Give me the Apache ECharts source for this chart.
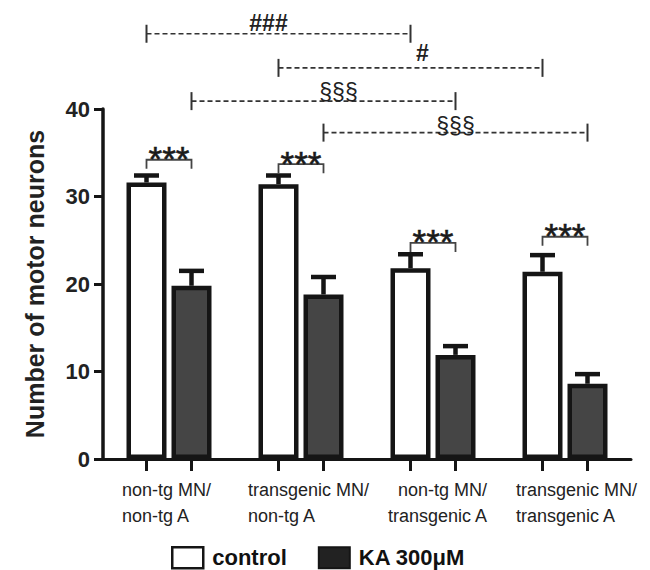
<!DOCTYPE html>
<html><head><meta charset="utf-8">
<script src="https://cdn.jsdelivr.net/npm/echarts@6/dist/echarts.min.js"></script>
<style>html,body{margin:0;padding:0;background:#fff}#chart{width:650px;height:570px}</style>
</head><body><div id="chart"></div>
<script>
// ---------- data ----------
const categoryLine1 = ['non-tg MN/', 'transgenic MN/', 'non-tg MN/', 'transgenic MN/'];
const categoryLine2 = ['non-tg A', 'non-tg A', 'transgenic A', 'transgenic A'];
const categories = categoryLine1.map((a, i) => a + '\n' + categoryLine2[i]);
const seriesNames = ['control', 'KA 300μM'];
const controlMean = [31.6, 31.4, 21.8, 21.4];
const controlSEM = [0.8, 1.0, 1.6, 1.9];
const kaMean = [19.8, 18.8, 11.9, 8.6];
const kaSEM = [1.7, 2.0, 1.0, 1.1];
const yTicks = [0, 10, 20, 30, 40];
const yTitle = 'Number of motor neurons';
const pairLabels = ['***', '***', '***', '***'];
const compLabels = ['###', '#', '§§§', '§§§'];
const compFrom = [[0, 0], [1, 0], [0, 1], [1, 1]]; // [category, series]
const compTo = [[2, 0], [3, 0], [2, 1], [3, 1]];

// ---------- layout / style ----------
const FONT = '"Liberation Sans", Arial, Helvetica, sans-serif';
const BAR_W = 40, BAR_GAP = 5;
const HALF = (BAR_W + BAR_GAP) / 2;
const pairBracketY = [34.2, 33.7, 24.7, 25.4];
const compLineY = [48.6, 44.7, 40.9, 37.3];
const compTextDx = [-10, 12, 15, 0];
const compTextDy = [-11, -15, -9, -7];
const compBold = [true, true, false, false];
const labelDx1 = [-47, -53, -35, -49];
const labelDx2 = [-47, -53, -45, -49];
const INK = '#151515';

function errRender(sIdx) {
  return function (params, api) {
    const i = api.value(0), m = api.value(1), e = api.value(2);
    const base = api.coord([i, m]);
    const top = api.coord([i, m + e]);
    const x = base[0] + (sIdx === 0 ? -HALF : HALF);
    return {
      type: 'group', children: [
        { type: 'line', shape: { x1: x, y1: base[1], x2: x, y2: top[1] }, style: { stroke: INK, lineWidth: 4.5 } },
        { type: 'line', shape: { x1: x - 12.5, y1: top[1], x2: x + 12.5, y2: top[1] }, style: { stroke: INK, lineWidth: 4.5 } }
      ]
    };
  };
}

const chart = echarts.init(document.getElementById('chart'), null, { renderer: 'svg' });
chart.setOption({
  animation: false,
  backgroundColor: '#fff',
  grid: { left: 103, right: 19, top: 109, bottom: 111, containLabel: false },
  legend: {
    left: 171, top: 546, padding: 0, itemWidth: 31, itemHeight: 21, itemGap: 31, icon: 'rect',
    selectedMode: false,
    textStyle: { fontFamily: FONT, fontSize: 22, fontWeight: 'bold', color: '#111', padding: [0, 0, 0, 4], lineHeight: 22 },
    data: [
      { name: seriesNames[0], itemStyle: { color: '#fff', borderColor: INK, borderWidth: 2.5 } },
      { name: seriesNames[1], itemStyle: { color: '#222', borderColor: INK, borderWidth: 2 } }
    ]
  },
  xAxis: {
    type: 'category', data: categories,
    axisLine: { lineStyle: { color: INK, width: 3 } },
    axisTick: { show: false }, axisLabel: { show: false }, splitLine: { show: false }
  },
  yAxis: {
    type: 'value', min: yTicks[0], max: yTicks[yTicks.length - 1], interval: 10,
    name: yTitle, nameLocation: 'middle', nameGap: 56,
    nameTextStyle: { fontFamily: FONT, fontSize: 25, fontWeight: 'bold', color: '#222' },
    axisLine: { show: true, lineStyle: { color: INK, width: 3.5 } },
    axisTick: { show: true, length: 9, lineStyle: { color: INK, width: 3 } },
    axisLabel: { fontFamily: FONT, fontSize: 22, fontWeight: 'bold', color: '#222', margin: 13 },
    splitLine: { show: false }
  },
  series: [
    {
      name: seriesNames[0], type: 'bar', data: controlMean, barWidth: BAR_W, barGap: (BAR_GAP / BAR_W * 100) + '%',
      itemStyle: { color: '#fff', borderColor: INK, borderWidth: 4.5 }, z: 2
    },
    {
      name: seriesNames[1], type: 'bar', data: kaMean, barWidth: BAR_W,
      itemStyle: { color: '#454545', borderColor: INK, borderWidth: 4.5 }, z: 2
    },
    {
      type: 'custom', silent: true, z: 3, clip: false,
      data: controlMean.map((v, i) => [i, v, controlSEM[i]]), encode: { x: 0, y: 1 },
      renderItem: errRender(0)
    },
    {
      type: 'custom', silent: true, z: 3, clip: false,
      data: kaMean.map((v, i) => [i, v, kaSEM[i]]), encode: { x: 0, y: 1 },
      renderItem: errRender(1)
    },
    { // within-group significance brackets
      type: 'custom', silent: true, z: 4, clip: false,
      data: pairBracketY.map((h, i) => [i, h]), encode: { x: 0, y: 1 },
      renderItem: function (params, api) {
        const i = api.value(0), h = api.value(1);
        const p = api.coord([i, h]);
        const x1 = p[0] - HALF, x2 = p[0] + HALF, y = p[1];
        const st = { stroke: '#444', lineWidth: 1.8 };
        return {
          type: 'group', children: [
            { type: 'polyline', shape: { points: [[x1, y + 9], [x1, y], [x2, y], [x2, y + 9]] }, style: Object.assign({ fill: null }, st) },
            { type: 'text', x: p[0], y: y - 1, style: { text: pairLabels[params.dataIndex], fill: '#1a1a1a', stroke: '#1a1a1a', lineWidth: 0.6, fontFamily: FONT, fontSize: 35, align: 'center', verticalAlign: 'middle' } }
          ]
        };
      }
    },
    { // between-group comparisons
      type: 'custom', silent: true, z: 4, clip: false,
      data: compLineY.map((h, k) => [compFrom[k][0], compFrom[k][1], compTo[k][0], compTo[k][1], h]),
      encode: { x: 0, y: 4 },
      renderItem: function (params, api) {
        const k = params.dataIndex;
        const h = api.value(4);
        const a = api.coord([api.value(0), h]);
        const b = api.coord([api.value(2), h]);
        const x1 = a[0] + (api.value(1) === 0 ? -HALF : HALF);
        const x2 = b[0] + (api.value(3) === 0 ? -HALF : HALF);
        const y = a[1];
        return {
          type: 'group', children: [
            { type: 'line', shape: { x1: x1, y1: y, x2: x2, y2: y }, style: { stroke: '#333', lineWidth: 1.6, lineDash: [5, 3] } },
            { type: 'line', shape: { x1: x1, y1: y - 9, x2: x1, y2: y + 9 }, style: { stroke: '#333', lineWidth: 2 } },
            { type: 'line', shape: { x1: x2, y1: y - 9, x2: x2, y2: y + 9 }, style: { stroke: '#333', lineWidth: 2 } },
            { type: 'text', x: (x1 + x2) / 2 + compTextDx[k], y: y + compTextDy[k], style: { text: compLabels[k], fill: '#222', fontFamily: FONT, fontSize: 23, fontWeight: compBold[k] ? 'bold' : 'normal', align: 'center', verticalAlign: 'middle' } }
          ]
        };
      }
    },
    { // x ticks at each bar and two-line category labels
      type: 'custom', silent: true, z: 5, clip: false,
      data: categories.map((c, i) => [i, 0]), encode: { x: 0, y: 1 },
      renderItem: function (params, api) {
        const i = api.value(0);
        const p = api.coord([i, 0]);
        const ts = { fill: '#222', fontFamily: FONT, fontSize: 18, align: 'left', verticalAlign: 'middle' };
        return {
          type: 'group', children: [
            { type: 'line', shape: { x1: p[0] - HALF, y1: p[1], x2: p[0] - HALF, y2: p[1] + 12 }, style: { stroke: INK, lineWidth: 3 } },
            { type: 'line', shape: { x1: p[0] + HALF, y1: p[1], x2: p[0] + HALF, y2: p[1] + 12 }, style: { stroke: INK, lineWidth: 3 } },
            { type: 'text', x: p[0] + labelDx1[i], y: p[1] + 31, style: Object.assign({ text: categoryLine1[i] }, ts) },
            { type: 'text', x: p[0] + labelDx2[i], y: p[1] + 57, style: Object.assign({ text: categoryLine2[i] }, ts) }
          ]
        };
      }
    }
  ]
});
</script></body></html>
